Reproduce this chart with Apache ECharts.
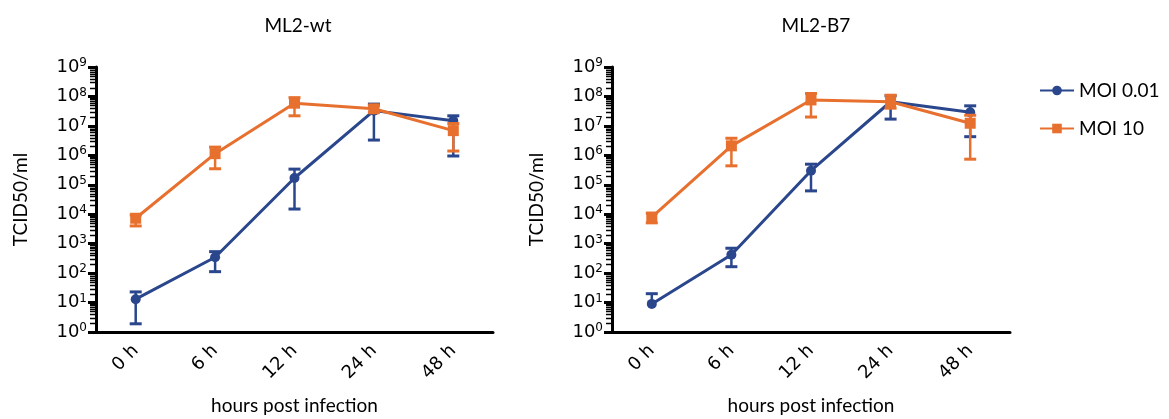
<!DOCTYPE html>
<html><head><meta charset="utf-8">
<script src="https://cdn.jsdelivr.net/npm/echarts@6/dist/echarts.min.js"></script>
<style>html,body{margin:0;padding:0;background:#fff}#c{width:1169px;height:419px}</style>
</head><body><div id="c"></div>
<script>
const categories = ['0 h', '6 h', '12 h', '24 h', '48 h'];
const panelTitles = ['ML2-wt', 'ML2-B7'];
const seriesNames = ['MOI 0.01', 'MOI 10'];
const yAxisName = 'TCID50/ml';
const xAxisName = 'hours post infection';
const minorTickMultipliers = [2, 3, 4, 5, 6, 7, 8, 9];
const decadeExponents = [0, 1, 2, 3, 4, 5, 6, 7, 8];

// ML2-wt
const wtMoi001Mean  = [13, 345, 1.7e5, 3.3e7, 1.5e7];
const wtMoi001Upper = [23, 535, 3.4e5, 5.5e7, 2.2e7];
const wtMoi001Lower = [1.9, 112, 1.5e4, 3.3e6, 9.5e5];
const wtMoi10Mean   = [7300, 1.14e6, 5.9e7, 3.8e7, 6.9e6];
const wtMoi10Upper  = [9400, 1.9e6, 9.1e7, 4.8e7, 1.2e7];
const wtMoi10Lower  = [4000, 3.5e5, 2.2e7, 2.9e7, 1.4e6];
// ML2-B7
const b7Moi001Mean  = [9, 420, 3.0e5, 6.6e7, 2.9e7];
const b7Moi001Upper = [20, 700, 5.0e5, 1.05e8, 4.8e7];
const b7Moi001Lower = [null, 165, 6.2e4, 1.7e7, 4.3e6];
const b7Moi10Mean   = [7900, 2.1e6, 7.6e7, 6.6e7, 1.23e7];
const b7Moi10Upper  = [1.08e4, 3.8e6, 1.26e8, 1.1e8, 2.3e7];
const b7Moi10Lower  = [5100, 4.4e5, 2.0e7, 4.0e7, 7.4e5];

const BLUE = '#2a468c';
const ORANGE = '#e8702e';
const TXT = "Lato, 'Open Sans', sans-serif";
const NUM = "'DejaVu Sans', 'Liberation Sans', Arial, sans-serif";

const panels = [
  {mean: [wtMoi001Mean, wtMoi10Mean], up: [wtMoi001Upper, wtMoi10Upper], lo: [wtMoi001Lower, wtMoi10Lower]},
  {mean: [b7Moi001Mean, b7Moi10Mean], up: [b7Moi001Upper, b7Moi10Upper], lo: [b7Moi001Lower, b7Moi10Lower]}
];
const gridPos = [{left: 96, width: 397}, {left: 612, width: 398}];
const titleX = [293, 811];
const colors = [BLUE, ORANGE];
const symbols = ['circle', 'rect'];
const symbolSizes = [10, 11];

const minorTickValues = [];
decadeExponents.forEach(e => minorTickMultipliers.forEach(m => minorTickValues.push(m * Math.pow(10, e))));

function errRender(color) {
  return function (params, api) {
    const x = api.value(0);
    const mid = api.value(1), hi = api.value(2), lo = api.value(3);
    const pMid = api.coord([x, mid]);
    const children = [];
    const st = {stroke: color, lineWidth: 2.5};
    const capW = 6;
    const add = (v) => {
      if (v == null || isNaN(v) || v <= 0) return;
      const p = api.coord([x, v]);
      children.push({type: 'line', shape: {x1: pMid[0], y1: pMid[1], x2: p[0], y2: p[1]}, style: st});
      children.push({type: 'line', shape: {x1: p[0] - capW, y1: p[1], x2: p[0] + capW, y2: p[1]}, style: {stroke: color, lineWidth: 3}});
    };
    add(hi); add(lo);
    return {type: 'group', children};
  };
}

function minorTickRender(params, api) {
  const p = api.coord([0, api.value(1)]);
  const band = api.size([1, 0])[0];
  const x0 = p[0] - band / 2;
  const y = Math.round(p[1]) + 0.5;
  return {type: 'line', shape: {x1: x0 - 6, y1: y, x2: x0, y2: y},
          style: {stroke: '#000', lineWidth: 1.5}};
}

const option = {
  animation: false,
  backgroundColor: '#fff',
  title: panelTitles.map((t, i) => ({
    text: t, left: titleX[i], top: 11, textAlign: 'center',
    textStyle: {fontFamily: TXT, fontSize: 19, fontWeight: 'normal', color: '#000'}
  })),
  legend: {
    data: seriesNames, orient: 'vertical', left: 1034, top: 76,
    itemWidth: 34, itemHeight: 12, itemGap: 19,
    textStyle: {fontFamily: TXT, fontSize: 19, color: '#000'}
  },
  grid: gridPos.map(g => ({left: g.left, width: g.width, top: 67, height: 265, containLabel: false, outerBoundsMode: 'none'})),
  xAxis: gridPos.map((g, i) => ({
    type: 'category', gridIndex: i, data: categories, boundaryGap: true,
    name: xAxisName, nameLocation: 'middle', nameGap: 64,
    nameTextStyle: {fontFamily: TXT, fontSize: 19, color: '#000'},
    axisLine: {lineStyle: {color: '#000', width: 3}},
    axisTick: {alignWithLabel: true, length: 8, lineStyle: {color: '#000', width: 3}},
    axisLabel: {rotate: 45, margin: 16, fontFamily: NUM, fontSize: 18, color: '#000'},
    splitLine: {show: false}
  })),
  yAxis: gridPos.map((g, i) => ({
    type: 'log', gridIndex: i, logBase: 10, min: 1, max: 1e9, interval: 1,
    name: yAxisName, nameLocation: 'middle', nameGap: 66,
    nameTextStyle: {fontFamily: TXT, fontSize: 19, color: '#000'},
    axisLine: {show: true, lineStyle: {color: '#000', width: 3}},
    axisTick: {show: true, length: 8, lineStyle: {color: '#000', width: 3}},
    splitLine: {show: false},
    axisLabel: {
      margin: 9,
      formatter: v => '{b|10}{s|' + Math.round(Math.log10(v)) + '}',
      rich: {
        b: {fontFamily: NUM, fontSize: 18, color: '#000', lineHeight: 20},
        s: {fontFamily: NUM, fontSize: 12, color: '#000', lineHeight: 12, verticalAlign: 'top'}
      }
    }
  })),
  series: []
};

panels.forEach((p, pi) => {
  option.series.push({
    type: 'custom', name: 'minor' + pi, xAxisIndex: pi, yAxisIndex: pi,
    renderItem: minorTickRender, clip: false, silent: true, z: 10,
    data: minorTickValues.map(v => [0, v]), encode: {x: 0, y: 1}
  });
  [0, 1].forEach(si => {
    option.series.push({
      type: 'custom', name: 'err' + pi + si, xAxisIndex: pi, yAxisIndex: pi,
      renderItem: errRender(colors[si]),
      data: categories.map((c, k) => [k, p.mean[si][k], p.up[si][k], p.lo[si][k] == null ? NaN : p.lo[si][k]]),
      encode: {x: 0, y: 1}, z: 2 + si * 2, silent: true
    });
    option.series.push({
      type: 'line', name: seriesNames[si], xAxisIndex: pi, yAxisIndex: pi,
      data: p.mean[si], symbol: symbols[si], symbolSize: symbolSizes[si],
      itemStyle: {color: colors[si]}, lineStyle: {color: colors[si], width: 3},
      z: 3 + si * 2
    });
  });
});

const chart = echarts.init(document.getElementById('c'), null, {renderer: 'canvas'});
chart.setOption(option);
</script></body></html>
